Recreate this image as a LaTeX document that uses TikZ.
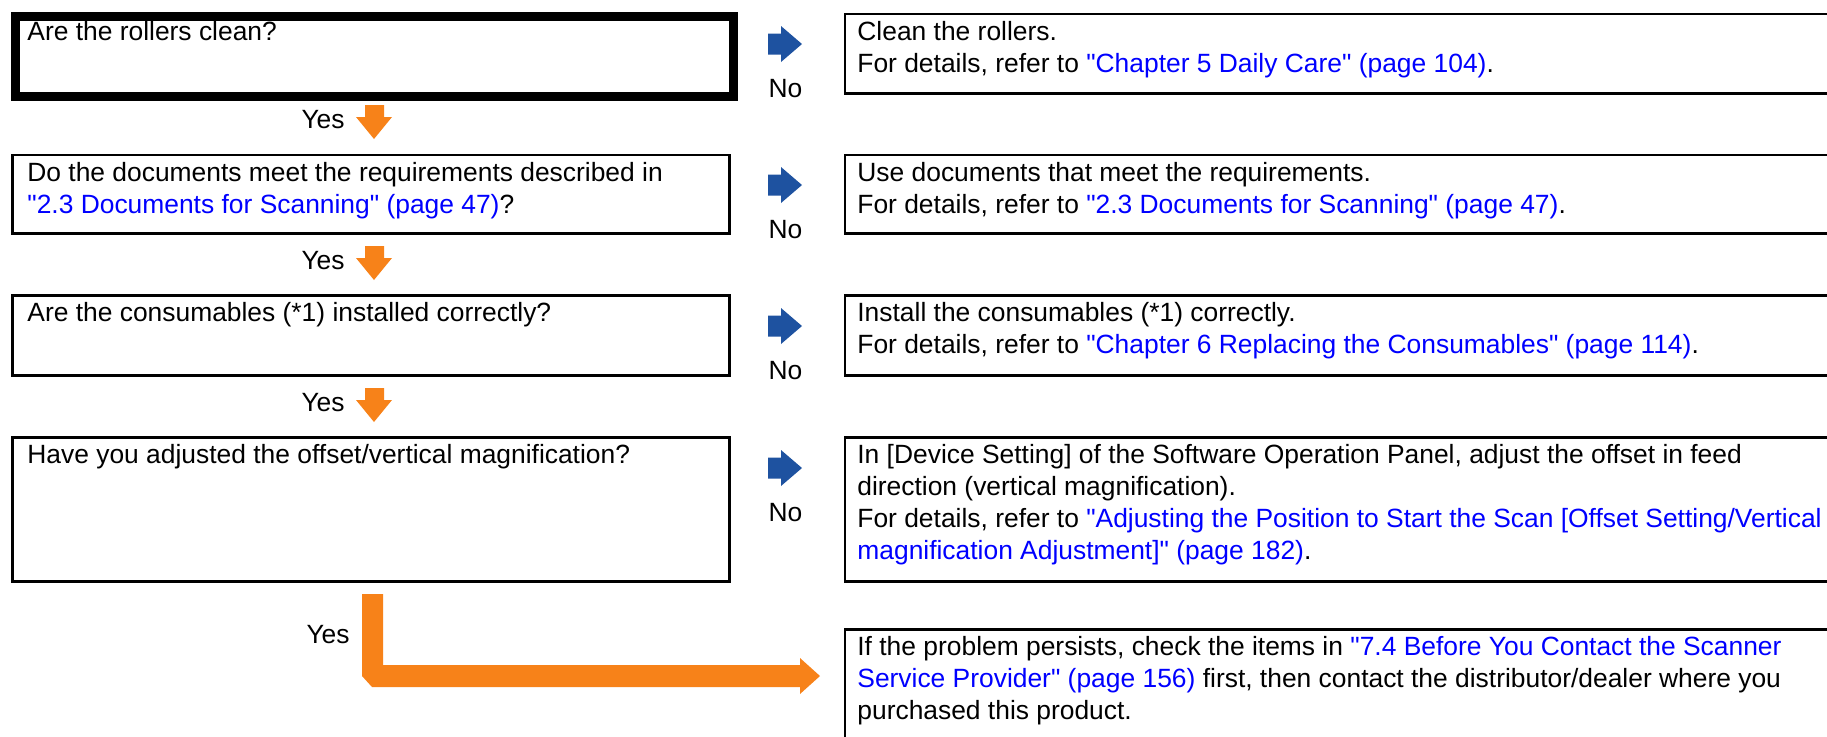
\documentclass[tikz,border=0pt]{standalone}
\usepackage{fontspec}
\setmainfont{Liberation Sans}
\usetikzlibrary{positioning}
\definecolor{noblue}{RGB}{30,82,160}
\definecolor{yesorange}{RGB}{247,130,25}
\definecolor{linkblue}{RGB}{0,0,255}
\newcommand{\lnk}[1]{\textcolor{linkblue}{#1}}
\newcommand{\qt}{\textquotedbl{}}
\begin{document}
\begin{tikzpicture}[x=0.5pt,y=-0.5pt,
  box/.style={draw,line width=1.25pt,anchor=north west,inner sep=0pt},
  txt/.style={anchor=north west,inner sep=0pt,align=left,font=\fontsize{13.2pt}{16pt}\selectfont},
  lbl/.style={inner sep=0pt,font=\fontsize{13.2pt}{16pt}\selectfont}]
\useasboundingbox (0,0) rectangle (1827,736);
\clip (0,0) rectangle (1827,736);
\node[box,line width=4.5pt,minimum width=359pt,minimum height=40pt] (q1) at (10.5,11.5) {};
\node[box,minimum width=358.5pt,minimum height=39.25pt] (q2) at (11,153.5) {};
\node[box,minimum width=358.5pt,minimum height=40pt] (q3) at (11,294) {};
\node[box,minimum width=358.5pt,minimum height=72pt] (q4) at (11,436) {};
\node[box,minimum width=493.25pt,minimum height=39.75pt] (r1) at (843.5,12.5) {};
\node[box,minimum width=493.25pt,minimum height=39.25pt] (r2) at (843.5,153.5) {};
\node[box,minimum width=493.25pt,minimum height=40pt] (r3) at (843.5,294) {};
\node[box,minimum width=493.25pt,minimum height=72pt] (r4) at (843.5,436) {};
\node[box,minimum width=493.25pt,minimum height=66pt] (r5) at (843.5,628) {};
\node[txt] (q1t) at ([shift={(16.5,6)}]q1.north west) {\strut Are the rollers clean?};
\node[txt] (q2t) at ([shift={(16,5)}]q2.north west) {\strut Do the documents meet the requirements described in\\
  \lnk{\qt 2.3 Documents for Scanning\qt\ (page 47)}?};
\node[txt] (q3t) at ([shift={(16,5)}]q3.north west) {\strut Are the consumables (*1) installed correctly?};
\node[txt] (q4t) at ([shift={(16,5)}]q4.north west) {\strut Have you adjusted the offset/vertical magnification?};
\node[txt] (r1t) at ([shift={(13.5,5)}]r1.north west) {\strut Clean the rollers.\\
  For details, refer to \lnk{\qt Chapter 5 Daily Care\qt\ (page 104)}.};
\node[txt] (r2t) at ([shift={(13.5,5)}]r2.north west) {\strut Use documents that meet the requirements.\\
  For details, refer to \lnk{\qt 2.3 Documents for Scanning\qt\ (page 47)}.};
\node[txt] (r3t) at ([shift={(13.5,5)}]r3.north west) {\strut Install the consumables (*1) correctly.\\
  For details, refer to \lnk{\qt Chapter 6 Replacing the Consumables\qt\ (page 114)}.};
\node[txt] (r4t) at ([shift={(13.5,5)}]r4.north west) {\strut In [Device Setting] of the Software Operation Panel, adjust the offset in feed\\
  direction (vertical magnification).\\
  For details, refer to \lnk{\qt Adjusting the Position to Start the Scan [Offset Setting/Vertical}\\
  \lnk{magnification Adjustment]\qt\ (page 182)}.};
\node[txt] (r5t) at ([shift={(13.5,5)}]r5.north west) {\strut If the problem persists, check the items in \lnk{\qt 7.4 Before You Contact the Scanner}\\
  \lnk{Service Provider\qt\ (page 156)} first, then contact the distributor/dealer where you\\
  purchased this product.};
\foreach \c in {44,185,326,468}{
  \fill[noblue] (768,{\c-10.5}) -- (781,{\c-10.5}) -- (781,{\c-18}) -- (802,\c)
    -- (781,{\c+18}) -- (781,{\c+10.5}) -- (768,{\c+10.5}) -- cycle;
  \node[lbl,anchor=base] (no\c) at (785.5,{\c+53}) {No};
}
\foreach \t in {105,246,388}{
  \fill[yesorange] (365,\t) -- (384,\t) -- (384,{\t+12}) -- (392,{\t+12})
    -- (374,{\t+34}) -- (356,{\t+12}) -- (365,{\t+12}) -- cycle;
  \node[lbl,anchor=base east] (yes\t) at (345,{\t+23}) {Yes};
}
\fill[yesorange] (362,594) -- (383,594) -- (383,665) -- (800,665) -- (800,658) -- (820,676)
  -- (800,694) -- (800,687) -- (372,687) -- (362,676) -- cycle;
\node[lbl,anchor=base east] (yes4) at (350,643) {Yes};
\end{tikzpicture}
\end{document}
